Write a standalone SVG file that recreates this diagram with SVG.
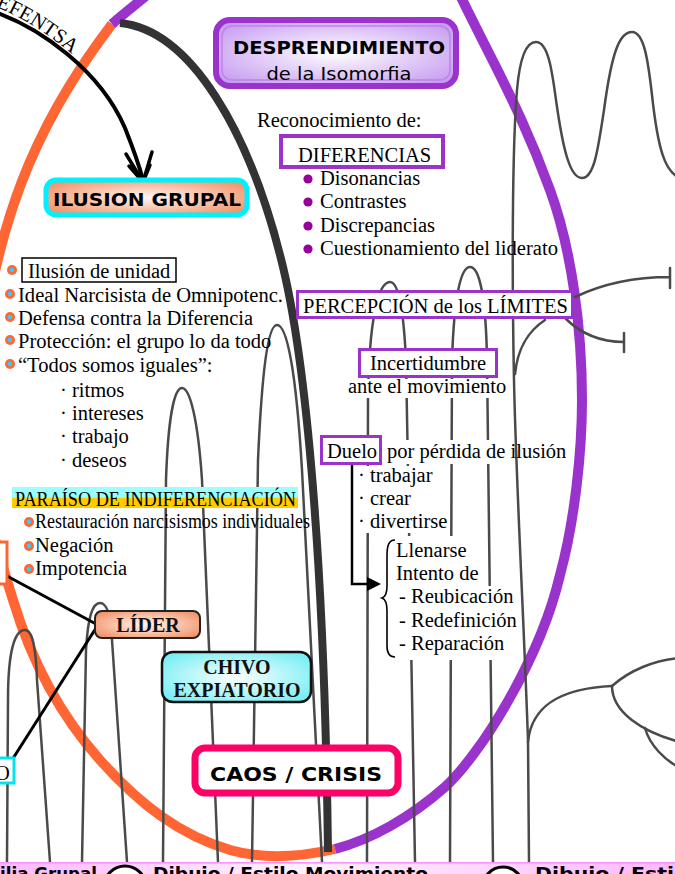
<svg xmlns="http://www.w3.org/2000/svg" width="675" height="874" viewBox="0 0 675 874">
<defs>
<style>
.t{font-family:"Liberation Serif","Times New Roman",serif;font-size:20.5px;fill:#000}
.tb{font-family:"Liberation Serif","Times New Roman",serif;font-size:20px;font-weight:bold;fill:#111}
.c{font-family:"DejaVu Sans","Liberation Sans",sans-serif;font-weight:bold;fill:#000}
.cn{font-family:"DejaVu Sans","Liberation Sans",sans-serif;fill:#000}
.g{fill:none;stroke:#4a4a4a;stroke-width:2.5;stroke-linecap:round}
.pbox{fill:#fff;stroke:#9933cc;stroke-width:3}
.bo{fill:#ff6633}
.bc{fill:#33ccff}
.bp{fill:#990099}
.wb{fill:#fff}
</style>
<radialGradient id="gPurple" cx="50%" cy="50%" r="65%"><stop offset="0" stop-color="#ffffff"/><stop offset="1" stop-color="#c498f0"/></radialGradient>
<radialGradient id="gSalmon" cx="50%" cy="50%" r="60%"><stop offset="0" stop-color="#fff8f4"/><stop offset="1" stop-color="#f2956a"/></radialGradient>
<radialGradient id="gCyan" cx="50%" cy="50%" r="60%"><stop offset="0" stop-color="#ffffff"/><stop offset="1" stop-color="#7aeef5"/></radialGradient>
<linearGradient id="gStrip" x1="0" y1="0" x2="1" y2="0"><stop offset="0" stop-color="#ffb8ff"/><stop offset="0.45" stop-color="#fff2ff"/><stop offset="1" stop-color="#ffb8ff"/></linearGradient>
<path id="arcText" d="M-4,7 C22,17 50,35 78,59"/>
</defs>

<g id="ellipse">
<path d="M112,24 C55,100 -8,200 -22,390 C-30,460 -12,520 13,600 C31,660 60,715 100,760 C140,805 180,835 230,850 C265,860 300,857 335,849" fill="none" stroke="#ff6633" stroke-width="10"/>
<path d="M335,849 C370,840 410,818 445,787 C480,755 540,660 560,575 C575,520 582,450 582,400 C582,330 572,250 550,190 C530,135 510,95 495,65 C485,45 472,20 460,-5" fill="none" stroke="#9933cc" stroke-width="10"/>
<path d="M112,24 C122,15 135,5 147,-5" fill="none" stroke="#9933cc" stroke-width="10"/>
<path d="M120,23 C190,30 250,130 283,267 C310,380 325,600 328,852" fill="none" stroke="#333" stroke-width="8"/>
</g>

<g id="background-lines">
<path class="g" d="M7,862 L8,700 C8,650 15,630 25,630 C33,630 36,650 37,680 L50,862"/>
<path class="g" d="M82,862 L86,650 C88,615 93,603 100,603 C107,603 111,615 112,640 L127,862"/>
<path class="g" d="M163,862 L166,480 C168,420 174,388 182,388 C190,388 198,420 202,480 L218,862"/>
<path class="g" d="M252,862 L258,460 C262,370 268,325 277,325 C287,325 296,370 302,470 L322,862"/>
<path class="g" d="M367,862 L368,400 C369,320 378,282 390,282 C400,282 404,320 406,360 L415,862"/>
<path class="g" d="M450,862 L452,360 C454,300 460,267 470,267 C480,267 486,300 487,360 L493,862"/>
</g>

<g id="text-backgrounds">
<rect class="wb" x="346" y="379" width="164" height="19"/>
<rect class="wb" x="384" y="440" width="186" height="24"/>
<rect class="wb" x="355" y="466" width="94" height="67"/>
<rect class="wb" x="383" y="536" width="97" height="50"/>
<rect class="wb" x="383" y="586" width="139" height="74"/>
</g>

<g id="connectors">
<path class="g" d="M529,862 L528,740 C523,600 516,480 514,380 C512,280 512,150 517,90 C520,55 527,42 536,42 C548,42 552,70 556,100 C563,150 570,178 582,178 C594,178 598,150 604,110 C612,50 620,32 632,32 C644,32 648,60 652,95 C658,150 665,172 680,178"/>
<path class="g" d="M528,742 C532,700 570,688 612,686"/>
<path class="g" d="M612,686 C630,670 655,660 680,658"/>
<path class="g" d="M612,686 C612,712 642,732 680,742"/>
<path class="g" d="M645,728 C650,746 665,760 680,768"/>
<path class="g" d="M575,297 C600,285 630,277 670,277 M670,268 L670,288"/>
<path class="g" d="M565,318 C580,333 600,342 624,342 M624,333 L624,352"/>
<path class="g" d="M545,320 C530,330 518,345 515,374"/>
<path d="M-5,12 C40,28 100,70 125,128 C133,148 139,165 143,180" fill="none" stroke="#000" stroke-width="4"/>
<path d="M126,154 L143,182 L152,152 M129,166 L143,182 L150,165" fill="none" stroke="#000" stroke-width="3.5" stroke-linejoin="round" stroke-linecap="round"/>
<text class="t" font-size="16"><textPath href="#arcText">EFENTSA</textPath></text>
<path d="M7,576 L96,624" stroke="#000" stroke-width="3"/>
<path d="M12,760 L96,628" stroke="#000" stroke-width="3"/>
<path d="M352,464 L352,584 L369,584" fill="none" stroke="#000" stroke-width="2.5"/>
<polygon points="367,577 381,584 367,591" fill="#000"/>
<path d="M395,540 C389,540 387,545 387,556 L387,586 C387,593 385,597 382,598 C385,599 387,603 387,611 L387,646 C387,653 389,657 395,657" fill="none" stroke="#000" stroke-width="1.6"/>
</g>

<g id="desprendimiento">
<rect x="216" y="20" width="240" height="66" rx="14" fill="url(#gPurple)" stroke="#9933cc" stroke-width="6"/>
<rect x="222" y="26" width="228" height="54" rx="10" fill="none" stroke="#c080f0" stroke-width="1.5"/>
<text class="c" x="339" y="54" font-size="18.5" text-anchor="middle" textLength="212" lengthAdjust="spacingAndGlyphs">DESPRENDIMIENTO</text>
<text class="cn" x="339" y="80" font-size="18" text-anchor="middle" textLength="145" lengthAdjust="spacingAndGlyphs">de la Isomorfia</text>
</g>

<g id="ilusion-grupal">
<rect x="46" y="180" width="201" height="35" rx="10" fill="url(#gSalmon)" stroke="#00f0ff" stroke-width="5"/>
<text class="c" x="147" y="206" font-size="17" text-anchor="middle" textLength="188" lengthAdjust="spacingAndGlyphs">ILUSION GRUPAL</text>
</g>

<g id="ilusion-list">
<rect x="22" y="258" width="154" height="24" fill="#fff" stroke="#000" stroke-width="1.5"/>
<circle class="bo" cx="12" cy="270" r="5"/><circle class="bc" cx="12" cy="270" r="2.3"/>
<circle class="bo" cx="10" cy="294" r="5"/><circle class="bc" cx="10" cy="294" r="2.3"/>
<circle class="bo" cx="10" cy="317" r="5"/><circle class="bc" cx="10" cy="317" r="2.3"/>
<circle class="bo" cx="10" cy="340" r="5"/><circle class="bc" cx="10" cy="340" r="2.3"/>
<circle class="bo" cx="10" cy="364" r="5"/><circle class="bc" cx="10" cy="364" r="2.3"/>
<text class="t" x="28" y="278">Ilusión de unidad</text>
<text class="t" x="18" y="302" textLength="265" lengthAdjust="spacingAndGlyphs">Ideal Narcisista de Omnipotenc.</text>
<text class="t" x="18" y="325">Defensa contra la Diferencia</text>
<text class="t" x="18" y="348">Protección: el grupo lo da todo</text>
<text class="t" x="18" y="372">“Todos somos iguales”:</text>
<text class="t" x="60" y="397">· ritmos</text>
<text class="t" x="60" y="420">· intereses</text>
<text class="t" x="60" y="443">· trabajo</text>
<text class="t" x="60" y="467">· deseos</text>
</g>

<g id="paraiso">
<rect x="12" y="487" width="286" height="10.5" fill="#99ffff"/>
<rect x="12" y="497.5" width="286" height="10.5" fill="#ffcc00"/>
<text class="t" x="15" y="506" font-size="18" textLength="281" lengthAdjust="spacingAndGlyphs">PARAÍSO DE INDIFERENCIACIÓN</text>
<circle class="bo" cx="29" cy="522" r="5"/><circle class="bc" cx="29" cy="522" r="2.3"/>
<circle class="bo" cx="29" cy="546" r="5"/><circle class="bc" cx="29" cy="546" r="2.3"/>
<circle class="bo" cx="29" cy="569" r="5"/><circle class="bc" cx="29" cy="569" r="2.3"/>
<text class="t" x="35" y="528" font-size="18" textLength="275" lengthAdjust="spacingAndGlyphs">Restauración narcisismos individuales</text>
<text class="t" x="35" y="552">Negación</text>
<text class="t" x="35" y="575">Impotencia</text>
</g>

<g id="left-cut-nodes">
<rect x="-20" y="542" width="27" height="42" fill="#fff" stroke="#ff6633" stroke-width="3"/>
<rect x="-20" y="758" width="34" height="25" fill="#fff" stroke="#00e5ee" stroke-width="3"/>
<text class="t" x="-5" y="780" font-size="19">O</text>
</g>

<g id="lider">
<rect x="95" y="611" width="105" height="27" rx="7" fill="url(#gSalmon)" stroke="#222" stroke-width="2"/>
<text class="tb" x="148" y="632" text-anchor="middle">LÍDER</text>
</g>

<g id="chivo">
<rect x="162" y="652" width="149" height="50" rx="11" fill="url(#gCyan)" stroke="#111" stroke-width="2.5"/>
<text class="tb" x="237" y="674" text-anchor="middle">CHIVO</text>
<text class="tb" x="237" y="697" text-anchor="middle">EXPIATORIO</text>
</g>

<g id="caos">
<rect x="195" y="748" width="203" height="45" rx="10" fill="#fff" stroke="#ff0066" stroke-width="7"/>
<text class="c" x="296" y="781" font-size="20" text-anchor="middle" textLength="172" lengthAdjust="spacingAndGlyphs">CAOS / CRISIS</text>
</g>

<g id="diferencias">
<text class="t" x="257" y="127">Reconocimiento de:</text>
<rect x="281" y="136" width="162" height="31" fill="#fff" stroke="#9933cc" stroke-width="4"/>
<text class="t" x="298" y="162" font-size="20.5">DIFERENCIAS</text>
<circle class="bp" cx="308" cy="179" r="4.6"/>
<circle class="bp" cx="308" cy="202" r="4.6"/>
<circle class="bp" cx="308" cy="226" r="4.6"/>
<circle class="bp" cx="308" cy="249" r="4.6"/>
<text class="t" x="320" y="185">Disonancias</text>
<text class="t" x="320" y="208">Contrastes</text>
<text class="t" x="320" y="232">Discrepancias</text>
<text class="t" x="320" y="255" textLength="238" lengthAdjust="spacingAndGlyphs">Cuestionamiento del liderato</text>
</g>

<g id="percepcion">
<rect class="pbox" x="297.5" y="291.5" width="275" height="26"/>
<text class="t" x="303" y="313" textLength="265" lengthAdjust="spacingAndGlyphs">PERCEPCIÓN de los LÍMITES</text>
</g>

<g id="incertidumbre">
<rect class="pbox" x="359.5" y="349.5" width="137" height="27"/>
<text class="t" x="428" y="370" text-anchor="middle">Incertidumbre</text>
<text class="t" x="348" y="393">ante el movimiento</text>
</g>

<g id="duelo">
<rect class="pbox" x="321.5" y="436.5" width="59" height="27"/>
<text class="t" x="327" y="458">Duelo</text>
<text class="t" x="387" y="458">por pérdida de ilusión</text>
<text class="t" x="358" y="482">· trabajar</text>
<text class="t" x="358" y="505">· crear</text>
<text class="t" x="358" y="528">· divertirse</text>
<text class="t" x="396" y="557">Llenarse</text>
<text class="t" x="396" y="580">Intento de</text>
<text class="t" x="399" y="603">- Reubicación</text>
<text class="t" x="399" y="627">- Redefinición</text>
<text class="t" x="399" y="650">- Reparación</text>
</g>

<g id="bottom-strip">
<rect x="0" y="862" width="675" height="12" fill="url(#gStrip)"/>
<rect x="0" y="862" width="675" height="1.6" fill="#ff90ff"/>
<circle cx="125" cy="887" r="21" fill="#fff" stroke="#000" stroke-width="3"/>
<circle cx="503" cy="887" r="20" fill="#fff" stroke="#000" stroke-width="3"/>
<text class="c" x="0" y="880" font-size="17" textLength="97" lengthAdjust="spacingAndGlyphs">ilia Grupal</text>
<text class="c" x="153" y="880" font-size="17" textLength="275" lengthAdjust="spacingAndGlyphs">Dibujo / Estilo Movimiento</text>
<text class="c" x="535" y="880" font-size="17" textLength="160" lengthAdjust="spacingAndGlyphs">Dibujo / Estilo</text>
</g>
</svg>
